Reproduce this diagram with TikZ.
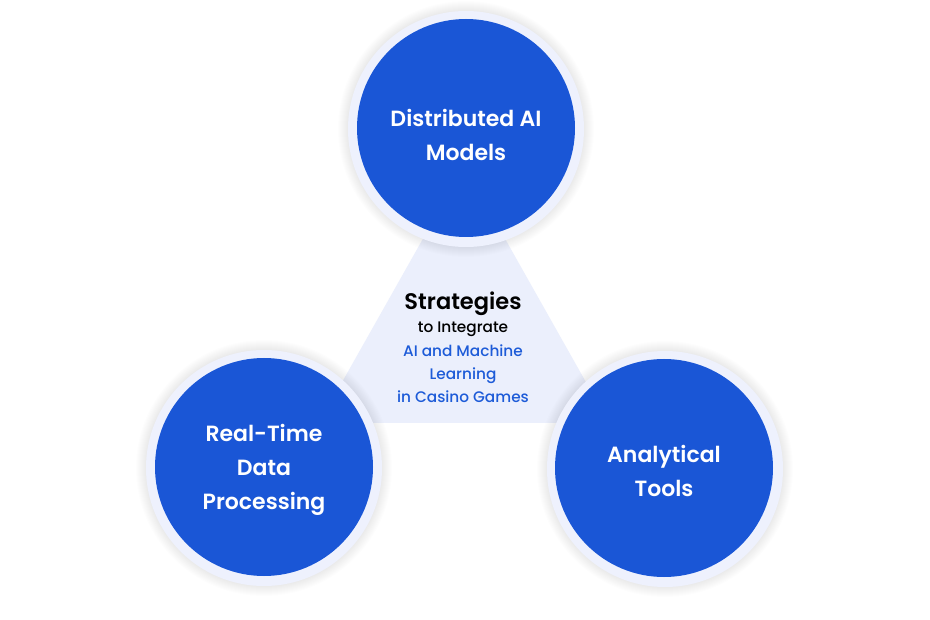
\documentclass[tikz,border=0pt]{standalone}
\usepackage{fontspec}
\setmainfont{Poppins}
\newfontfamily\popmed{Poppins Medium}
\newfontfamily\popsemi{Poppins SemiBold}
\definecolor{cblue}{HTML}{1A56D6}
\definecolor{cring}{HTML}{EEF1FD}
\definecolor{ctri}{HTML}{EBEFFC}
\definecolor{ctext}{HTML}{1D5BD8}
\tikzset{
  ring/.style={circle, fill=cring, minimum size=236pt, inner sep=0pt},
  disc/.style={circle, fill=cblue, minimum size=218pt, inner sep=0pt},
  disctext/.style={text=white, align=center, font=\popsemi\fontsize{22}{34}\selectfont},
  subline/.style={anchor=base, font=\popmed\fontsize{15.3}{23.3}\selectfont},
}
\begin{document}
\begin{tikzpicture}[x=1pt,y=-1pt]
\useasboundingbox (0,0) rectangle (930,620);
\fill[white] (0,0) rectangle (930,620);
% triangle
\coordinate (ta) at (464,166);
\coordinate (tb) at (319,423);
\coordinate (tc) at (609,423);
\fill[ctri] (ta) -- (tb) -- (tc) -- cycle;
% shadows
\foreach \c in {(466,129),(264,468),(665,469)}{
  \foreach \r in {119,120,...,128}{
    \fill[black, opacity=0.006] \c circle (\r);
  }
}
% circles
\node[ring] (r1) at (466,129) {};
\node[ring] (r2) at (264,468) {};
\node[ring] (r3) at (665,469) {};
\node[disc] (c1) at (466,128) {};
\node[disc] (c2) at (264,467) {};
\node[disc] (c3) at (664,468) {};
\node[disctext] (l1) at (466,135) {Distributed AI\\Models};
\node[disctext] (l2) at (264,470) {Real-Time\\Data\\Processing};
\node[disctext] (l3) at (664,471) {Analytical\\Tools};
% center text
\node[anchor=base, font=\popsemi\fontsize{22.5}{24}\selectfont] (t0) at (463,310) {Strategies};
\node[subline] (t1) at (463,333) {to Integrate};
\node[subline, text=ctext] (t2) at (463,357) {AI and Machine};
\node[subline, text=ctext] (t3) at (463,380) {Learning};
\node[subline, text=ctext] (t4) at (463,403) {in Casino Games};
\end{tikzpicture}
\end{document}
